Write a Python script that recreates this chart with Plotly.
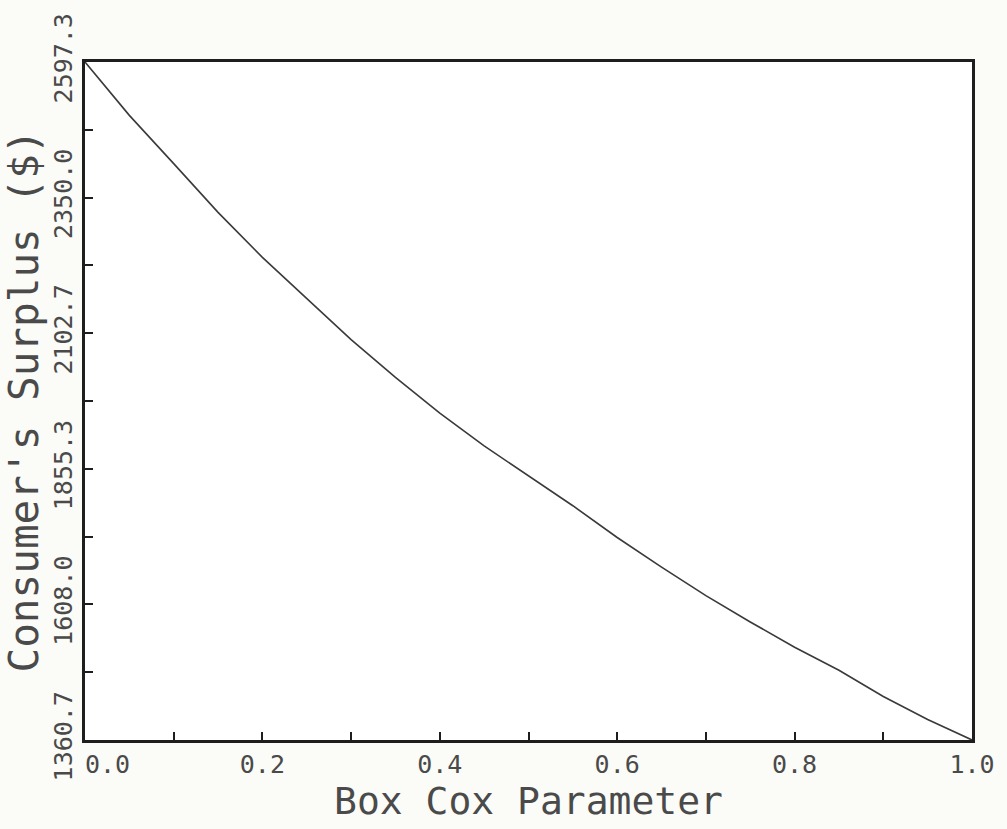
import plotly.graph_objects as go

# Data
box_cox = [0.00, 0.05, 0.10, 0.15, 0.20, 0.25, 0.30, 0.35, 0.40, 0.45, 0.50,
           0.55, 0.60, 0.65, 0.70, 0.75, 0.80, 0.85, 0.90, 0.95, 1.00]
surplus = [2597.3, 2500, 2412, 2323, 2241, 2166, 2091, 2022, 1957, 1897, 1843,
           1788, 1730, 1676, 1624, 1576, 1530, 1488, 1440, 1398, 1360.7]

x_tickvals = [0.0, 0.2, 0.4, 0.6, 0.8, 1.0]
x_ticktext = ["\u00a0\u00a0\u00a00.0", "0.2", "0.4", "0.6", "0.8", "1.0"]
y_tickvals = [1360.7, 1608.02, 1855.34, 2102.66, 2349.98, 2597.3]
y_ticktext = ["1360.7", "1608.0", "1855.3", "2102.7", "2350.0", "2597.3"]

FONT = "DejaVu Sans Mono"
TXT = "#4a4a4a"
AX = "#1e1e1e"

fig = go.Figure()
fig.add_trace(go.Scatter(x=box_cox, y=surplus, mode="lines",
                         line=dict(color="#3a3a3a", width=1.6),
                         showlegend=False, hoverinfo="skip"))

fig.update_layout(
    width=1007, height=829,
    margin=dict(l=85, r=27, t=62, b=89),
    paper_bgcolor="#fbfbf7", plot_bgcolor="#ffffff",
    font=dict(family=FONT, color=TXT),
    xaxis=dict(range=[0, 1], tickvals=x_tickvals, ticktext=x_ticktext,
               ticks="inside", ticklen=8, tickwidth=1.5, tickcolor=AX,
               minor=dict(ticks="inside", tickvals=[0.1, 0.3, 0.5, 0.7, 0.9],
                          ticklen=8, tickwidth=1.5, tickcolor=AX),
               showline=True, linecolor=AX, linewidth=2.5, mirror=True,
               showgrid=False, zeroline=False,
               tickfont=dict(size=25, color=TXT, family=FONT),
               title=dict(text="Box Cox Parameter",
                          font=dict(size=38, color=TXT, family=FONT), standoff=4)),
    yaxis=dict(range=[1360.7, 2597.3], tickvals=y_tickvals, ticktext=y_ticktext,
               ticks="inside", ticklen=8, tickwidth=1.5, tickcolor=AX,
               minor=dict(ticks="inside",
                          tickvals=[1484.36, 1731.68, 1979.0, 2226.32, 2473.64],
                          ticklen=8, tickwidth=1.5, tickcolor=AX),
               showline=True, linecolor=AX, linewidth=2.5, mirror=True,
               showgrid=False, zeroline=False, tickangle=-90,
               tickfont=dict(size=25, color=TXT, family=FONT),
               title=dict(text="Consumer's Surplus ($)",
                          font=dict(size=41, color=TXT, family=FONT), standoff=4)),
)

fig.write_html("out.html",
               config={"displayModeBar": False},
               post_script="document.body.style.margin='0';"
                           "document.body.style.overflow='hidden';")
